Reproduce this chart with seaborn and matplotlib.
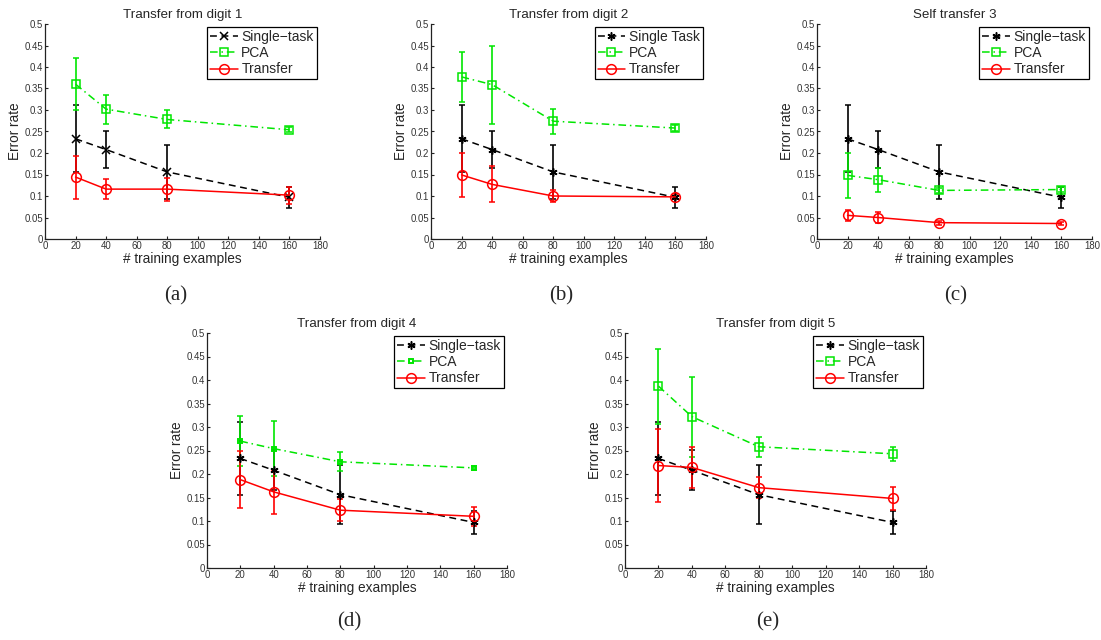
import matplotlib
matplotlib.use("Agg")
import matplotlib.pyplot as plt
from matplotlib.ticker import FuncFormatter, MultipleLocator
import pandas as pd
import seaborn as sns

# ---- data -------------------------------------------------------------
n_train = [20, 40, 80, 160]

# single-task baseline (same in every panel)
single_rate = [0.233, 0.208, 0.156, 0.097]
single_bar = [0.078, 0.043, 0.063, 0.024]

# (a) transfer from digit 1
pca_a = [0.360, 0.302, 0.278, 0.254]
pca_a_bar = [0.061, 0.034, 0.021, 0.006]
tr_a = [0.144, 0.116, 0.116, 0.102]
tr_a_bar = [0.050, 0.024, 0.027, 0.020]

# (b) transfer from digit 2
pca_b = [0.377, 0.359, 0.274, 0.258]
pca_b_bar = [0.058, 0.091, 0.029, 0.006]
tr_b = [0.149, 0.127, 0.100, 0.098]
tr_b_bar = [0.052, 0.042, 0.013, 0.006]

# (c) self transfer 3
pca_c = [0.148, 0.138, 0.113, 0.115]
pca_c_bar = [0.052, 0.028, 0.006, 0.005]
tr_c = [0.055, 0.050, 0.038, 0.036]
tr_c_bar = [0.012, 0.012, 0.005, 0.004]

# (d) transfer from digit 4
pca_d = [0.270, 0.254, 0.226, 0.213]
pca_d_bar = [0.053, 0.059, 0.020, 0.005]
tr_d = [0.188, 0.162, 0.123, 0.110]
tr_d_bar = [0.060, 0.047, 0.024, 0.020]

# (e) transfer from digit 5
pca_e = [0.387, 0.322, 0.258, 0.243]
pca_e_bar = [0.080, 0.085, 0.021, 0.015]
tr_e = [0.218, 0.214, 0.171, 0.148]
tr_e_bar = [0.077, 0.043, 0.022, 0.025]

titles = ["Transfer from digit 1", "Transfer from digit 2", "Self transfer 3",
          "Transfer from digit 4", "Transfer from digit 5"]
single_labels = ["Single\u2212task", "Single Task", "Single\u2212task",
                 "Single\u2212task", "Single\u2212task"]
panel_tags = ["(a)", "(b)", "(c)", "(d)", "(e)"]

x_ticks = [0, 20, 40, 60, 80, 100, 120, 140, 160, 180]

# ---- style ------------------------------------------------------------
sns.set_style("ticks")
plt.rcParams["font.family"] = ["Liberation Sans", "DejaVu Sans"]
plt.rcParams["xtick.direction"] = "in"
plt.rcParams["ytick.direction"] = "in"

BLACK = "#000000"
GREEN = "#00e600"
RED = "#ff0000"
ASTERISK = (6, 2, 0)

W, H = 1101, 640
fig = plt.figure(figsize=(W / 100, H / 100), dpi=100)


def rect(l, r, t, b):
    return [l / W, 1 - b / H, (r - l) / W, (b - t) / H]


axes_px = [
    (45, 320, 24, 239),
    (431, 706, 24, 239),
    (817, 1092, 24, 239),
    (207, 507, 333, 568),
    (625, 926, 333, 568),
]
tag_px = [(176, 296), (561, 296), (956, 296), (349, 622), (768, 622)]

panels = [
    (pca_a, pca_a_bar, tr_a, tr_a_bar),
    (pca_b, pca_b_bar, tr_b, tr_b_bar),
    (pca_c, pca_c_bar, tr_c, tr_c_bar),
    (pca_d, pca_d_bar, tr_d, tr_d_bar),
    (pca_e, pca_e_bar, tr_e, tr_e_bar),
]


def draw_series(ax, y, err, color, marker, ms, dash, label, mew=1.1):
    df = pd.DataFrame({"n": n_train, "rate": y})
    sns.lineplot(data=df, x="n", y="rate", ax=ax, color=color, marker=marker,
                 markersize=ms, markerfacecolor="none", markeredgecolor=color,
                 markeredgewidth=mew, linewidth=1.1, label=label, zorder=3)
    line = ax.lines[-1]
    if dash is not None:
        line.set_dashes(dash)
    ax.errorbar(n_train, y, yerr=err, fmt="none", ecolor=color,
                elinewidth=1.2, capsize=2.0, capthick=1.1, zorder=2)


for i, (pca, pca_bar, tr, tr_bar) in enumerate(panels):
    ax = fig.add_axes(rect(*axes_px[i]))
    single_marker = "x" if i == 0 else ASTERISK
    pca_ms = 3.5 if i == 3 else 5.3
    draw_series(ax, single_rate, single_bar, BLACK, single_marker, 5.8,
                (4.5, 3), single_labels[i])
    draw_series(ax, pca, pca_bar, GREEN, "s", pca_ms, (5, 2.5, 1, 2.5), "PCA",
                mew=1.4 if i == 3 else 1.1)
    draw_series(ax, tr, tr_bar, RED, "o", 7.0, None, "Transfer")

    ax.set_xlim(0, 180)
    ax.set_ylim(0, 0.5)
    ax.set_xticks(x_ticks)
    ax.yaxis.set_major_locator(MultipleLocator(0.05))
    ax.yaxis.set_major_formatter(FuncFormatter(lambda v, _: f"{v:g}"))
    ax.tick_params(labelsize=6.9, labelcolor="#333333", length=2.5,
                   width=0.8, color="#222222", pad=1.5)
    sns.despine(ax=ax)
    for s in ("left", "bottom"):
        ax.spines[s].set_color("#222222")
        ax.spines[s].set_linewidth(0.9)

    ax.set_title(titles[i], fontsize=9.6, pad=4)
    ax.set_xlabel("# training examples", fontsize=9.8, labelpad=1)
    ax.set_ylabel("Error rate", fontsize=9.8, labelpad=2)

    leg = ax.legend(loc="upper right", fontsize=10, frameon=True, fancybox=False,
                    edgecolor="black", framealpha=1, borderpad=0.2,
                    labelspacing=0.15, handlelength=2.0, handletextpad=0.25,
                    borderaxespad=0.25, numpoints=1)
    leg.get_frame().set_linewidth(0.9)

    tx, ty = tag_px[i]
    fig.text(tx / W, 1 - ty / H, panel_tags[i], ha="center", va="center",
             fontsize=15, family=["Liberation Serif", "DejaVu Serif"])

fig.savefig("out.png", dpi=100)
